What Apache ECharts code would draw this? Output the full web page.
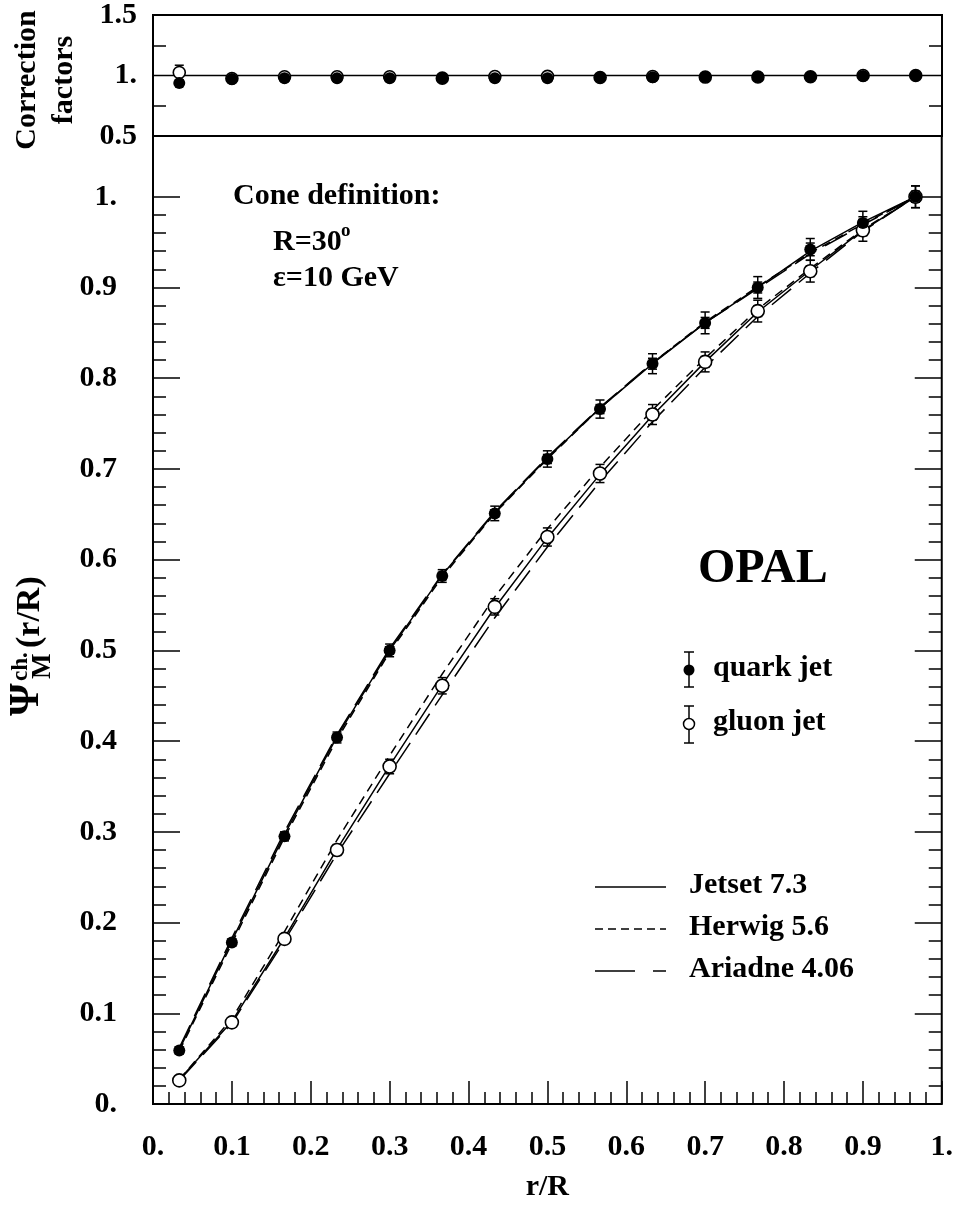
<!DOCTYPE html>
<html><head><meta charset="utf-8">
<script src="https://cdn.jsdelivr.net/npm/echarts@6/dist/echarts.min.js"></script>
<style>html,body{margin:0;padding:0;background:#fff}#c{width:956px;height:1207px}</style>
</head><body><div id="c"></div>
<script>
// ---------- data ----------
const rCenters = [0.0333, 0.1, 0.1667, 0.2333, 0.3, 0.3667, 0.4333, 0.5, 0.5667, 0.6333, 0.7, 0.7667, 0.8333, 0.9, 0.9667];

const quarkPsi      = [0.059, 0.178, 0.295, 0.404, 0.500, 0.582, 0.651, 0.711, 0.766, 0.816, 0.861, 0.900, 0.942, 0.971, 1.000];
const quarkErrTot   = [0.004, 0.004, 0.005, 0.006, 0.007, 0.007, 0.008, 0.009, 0.010, 0.011, 0.012, 0.012, 0.012, 0.013, 0.012];
const quarkErrStat  = [0.002, 0.002, 0.003, 0.003, 0.004, 0.004, 0.004, 0.005, 0.005, 0.006, 0.006, 0.006, 0.007, 0.007, 0.006];

const gluonPsi      = [0.026, 0.090, 0.182, 0.280, 0.372, 0.461, 0.548, 0.625, 0.695, 0.760, 0.818, 0.874, 0.918, 0.963, 1.000];
const gluonErrTot   = [0.003, 0.004, 0.005, 0.006, 0.008, 0.009, 0.009, 0.010, 0.010, 0.011, 0.011, 0.012, 0.012, 0.012, 0.012];
const gluonErrStat  = [0.002, 0.002, 0.003, 0.003, 0.004, 0.004, 0.005, 0.005, 0.005, 0.006, 0.006, 0.006, 0.006, 0.006, 0.006];

const quarkJetset   = [0.060, 0.180, 0.297, 0.405, 0.500, 0.583, 0.652, 0.712, 0.767, 0.816, 0.861, 0.900, 0.940, 0.972, 1.000];
const quarkHerwig   = [0.058, 0.177, 0.294, 0.402, 0.498, 0.581, 0.651, 0.711, 0.767, 0.817, 0.862, 0.901, 0.938, 0.970, 1.000];
const quarkAriadne  = [0.062, 0.183, 0.300, 0.407, 0.502, 0.584, 0.653, 0.713, 0.768, 0.817, 0.861, 0.899, 0.937, 0.969, 1.000];

const gluonJetset   = [0.027, 0.091, 0.183, 0.281, 0.373, 0.462, 0.547, 0.624, 0.694, 0.759, 0.818, 0.873, 0.919, 0.963, 1.000];
const gluonHerwig   = [0.027, 0.094, 0.190, 0.291, 0.384, 0.474, 0.559, 0.634, 0.702, 0.765, 0.822, 0.876, 0.921, 0.964, 1.000];
const gluonAriadne  = [0.026, 0.089, 0.180, 0.276, 0.364, 0.451, 0.536, 0.614, 0.686, 0.752, 0.812, 0.868, 0.916, 0.962, 1.000];

const quarkCorr     = [0.937, 0.972, 0.978, 0.978, 0.978, 0.978, 0.978, 0.977, 0.983, 0.985, 0.987, 0.988, 0.990, 0.995, 1.000];
const quarkCorrErr  = [0.015, 0.015, 0.015, 0.015, 0.015, 0.015, 0.015, 0.015, 0.015, 0.015, 0.015, 0.015, 0.015, 0.015, 0.015];
const gluonCorr     = [1.025, 0.975, 0.990, 0.990, 0.990, 0.978, 0.992, 0.993, 0.983, 0.992, 0.987, 0.988, 0.990, 1.000, 1.000];
const gluonCorrErr  = [0.060, 0.015, 0.015, 0.015, 0.015, 0.015, 0.015, 0.015, 0.015, 0.015, 0.015, 0.015, 0.015, 0.015, 0.015];

const corrRefX = [0, 1];
const corrRefY = [1, 1];

const xTickValues = [0, 0.1, 0.2, 0.3, 0.4, 0.5, 0.6, 0.7, 0.8, 0.9, 1.0];
const xTickLabels = ['0.', '0.1', '0.2', '0.3', '0.4', '0.5', '0.6', '0.7', '0.8', '0.9', '1.'];
const mainYTickValues = [0, 0.1, 0.2, 0.3, 0.4, 0.5, 0.6, 0.7, 0.8, 0.9, 1.0];
const mainYTickLabels = ['0.', '0.1', '0.2', '0.3', '0.4', '0.5', '0.6', '0.7', '0.8', '0.9', '1.'];
const mainYMinorTicks = [0.02,0.04,0.06,0.08,0.12,0.14,0.16,0.18,0.22,0.24,0.26,0.28,0.32,0.34,0.36,0.38,0.42,0.44,0.46,0.48,
                         0.52,0.54,0.56,0.58,0.62,0.64,0.66,0.68,0.72,0.74,0.76,0.78,0.82,0.84,0.86,0.88,0.92,0.94,0.96,0.98];
const corrTickValues = [0.5, 1.0, 1.5];
const corrTickLabels = ['0.5', '1.', '1.5'];
const corrMinorTicks = [0.75, 1.25];

// ---------- helpers ----------
const FF = '"Liberation Serif", "Times New Roman", serif';
const zip = (xs, ys) => xs.map((x, i) => [x, ys[i]]);
const labelFor = (vals, labs) => v => { const i = vals.findIndex(t => Math.abs(t - v) < 1e-6); return i < 0 ? '' : labs[i]; };
const BLK = '#000';

function errBarRender(params, api) {
  const x = api.value(0), y = api.value(1), et = api.value(2), es = api.value(3);
  const hi = api.coord([x, y + et]), lo = api.coord([x, y - et]);
  const shi = api.coord([x, y + es]), slo = api.coord([x, y - es]);
  const c = 4.5;
  const st = { stroke: BLK, lineWidth: 1.5 };
  const L = (x1, y1, x2, y2) => ({ type: 'line', shape: { x1, y1, x2, y2 }, style: st });
  const ch = [L(hi[0], hi[1], lo[0], lo[1]), L(hi[0] - c, hi[1], hi[0] + c, hi[1]), L(lo[0] - c, lo[1], lo[0] + c, lo[1])];
  if (es > 0) ch.push(L(shi[0] - c, shi[1], shi[0] + c, shi[1]), L(slo[0] - c, slo[1], slo[0] + c, slo[1]));
  return { type: 'group', children: ch };
}
function errData(xs, ys, et, es) { return xs.map((x, i) => [x, ys[i], et[i], es ? es[i] : 0]); }

const tickStyle = { color: BLK, width: 1.5 };
const labelStyle = { fontFamily: FF, fontWeight: 'bold', fontSize: 30, color: BLK };

function modelLine(name, data, type, xi, yi) {
  return { name, type: 'line', xAxisIndex: xi, yAxisIndex: yi, data, showSymbol: false, symbol: 'none', z: 2,
    lineStyle: { color: BLK, width: 1.5, type }, silent: true };
}

const chart = echarts.init(document.getElementById('c'), null, { renderer: 'canvas' });

const filledStyle = { color: BLK, opacity: 1 };
const openStyle = { color: '#fff', borderColor: BLK, borderWidth: 1.6, opacity: 1 };

const option = {
  animation: false,
  backgroundColor: '#fff',
  grid: [
    { left: 153, top: 14, width: 789, height: 122, show: true, borderColor: BLK, borderWidth: 2, backgroundColor: 'transparent', containLabel: false },
    { left: 153, top: 136, width: 789, height: 971, show: true, borderColor: BLK, borderWidth: 2, backgroundColor: 'transparent', containLabel: false }
  ],
  xAxis: [
    { gridIndex: 0, type: 'value', min: 0, max: 1, show: false },
    { gridIndex: 1, type: 'value', min: 0, max: 1, interval: 0.1,
      axisLine: { show: false },
      axisTick: { inside: true, length: 23, lineStyle: tickStyle },
      minorTick: { show: true, splitNumber: 5, length: 12, lineStyle: tickStyle },
      splitLine: { show: false }, minorSplitLine: { show: false },
      axisLabel: Object.assign({ margin: 28, formatter: labelFor(xTickValues, xTickLabels) }, labelStyle),
      name: 'r/R', nameLocation: 'middle', nameGap: 68,
      nameTextStyle: labelStyle }
  ],
  yAxis: [
    { gridIndex: 0, type: 'value', min: 0.5, max: 1.5, position: 'left',
      axisLine: { show: false }, splitLine: { show: false },
      axisTick: { inside: true, length: 13, lineStyle: tickStyle, customValues: corrMinorTicks },
      axisLabel: Object.assign({ margin: 16, customValues: corrTickValues, formatter: labelFor(corrTickValues, corrTickLabels) }, labelStyle) },
    { gridIndex: 0, type: 'value', min: 0.5, max: 1.5, position: 'right',
      axisLine: { show: false }, splitLine: { show: false },
      axisTick: { inside: true, length: 13, lineStyle: tickStyle, customValues: corrMinorTicks },
      axisLabel: { show: false } },
    { gridIndex: 1, type: 'value', min: 0, max: 1.067, position: 'left',
      axisLine: { show: false }, splitLine: { show: false },
      axisTick: { inside: true, length: 27, lineStyle: tickStyle, customValues: mainYTickValues },
      axisLabel: Object.assign({ margin: 36, customValues: mainYTickValues, formatter: labelFor(mainYTickValues, mainYTickLabels) }, labelStyle) },
    { gridIndex: 1, type: 'value', min: 0, max: 1.067, position: 'left',
      axisLine: { show: false }, splitLine: { show: false },
      axisTick: { inside: true, length: 13, lineStyle: tickStyle, customValues: mainYMinorTicks },
      axisLabel: { show: false } },
    { gridIndex: 1, type: 'value', min: 0, max: 1.067, position: 'right',
      axisLine: { show: false }, splitLine: { show: false },
      axisTick: { inside: true, length: 27, lineStyle: tickStyle, customValues: mainYTickValues },
      axisLabel: { show: false } },
    { gridIndex: 1, type: 'value', min: 0, max: 1.067, position: 'right',
      axisLine: { show: false }, splitLine: { show: false },
      axisTick: { inside: true, length: 13, lineStyle: tickStyle, customValues: mainYMinorTicks },
      axisLabel: { show: false } }
  ],
  series: [
    // top panel
    modelLine('ref', zip(corrRefX, corrRefY), 'solid', 0, 0),
    { type: 'custom', xAxisIndex: 0, yAxisIndex: 0, renderItem: errBarRender, data: errData(rCenters, gluonCorr, gluonCorrErr), z: 3, silent: true },
    { type: 'scatter', xAxisIndex: 0, yAxisIndex: 0, data: zip(rCenters, gluonCorr), symbol: 'circle', symbolSize: 12, z: 4,
      itemStyle: openStyle, silent: true },
    { type: 'custom', xAxisIndex: 0, yAxisIndex: 0, renderItem: errBarRender, data: errData(rCenters, quarkCorr, quarkCorrErr), z: 5, silent: true },
    { type: 'scatter', xAxisIndex: 0, yAxisIndex: 0, data: zip(rCenters, quarkCorr), symbol: 'circle', symbolSize: 12, z: 6,
      itemStyle: filledStyle, silent: true },
    // main panel model curves
    modelLine('Jetset 7.3 q', zip(rCenters, quarkJetset), 'solid', 1, 2),
    modelLine('Herwig 5.6 q', zip(rCenters, quarkHerwig), [9, 6], 1, 2),
    modelLine('Ariadne 4.06 q', zip(rCenters, quarkAriadne), [25, 10], 1, 2),
    modelLine('Jetset 7.3 g', zip(rCenters, gluonJetset), 'solid', 1, 2),
    modelLine('Herwig 5.6 g', zip(rCenters, gluonHerwig), [9, 6], 1, 2),
    modelLine('Ariadne 4.06 g', zip(rCenters, gluonAriadne), [25, 10], 1, 2),
    // data
    { type: 'custom', xAxisIndex: 1, yAxisIndex: 2, renderItem: errBarRender, data: errData(rCenters, gluonPsi, gluonErrTot, gluonErrStat), z: 3, silent: true },
    { type: 'custom', xAxisIndex: 1, yAxisIndex: 2, renderItem: errBarRender, data: errData(rCenters, quarkPsi, quarkErrTot, quarkErrStat), z: 3, silent: true },
    { name: 'gluon jet', type: 'scatter', xAxisIndex: 1, yAxisIndex: 2, data: zip(rCenters, gluonPsi), symbol: 'circle', symbolSize: 13, z: 4,
      itemStyle: openStyle, silent: true },
    { name: 'quark jet', type: 'scatter', xAxisIndex: 1, yAxisIndex: 2, data: zip(rCenters, quarkPsi), symbol: 'circle', symbolSize: 12, z: 4,
      itemStyle: filledStyle, silent: true }
  ],
  graphic: [
    // "Correction factors"
    { type: 'text', x: 27, y: 80, rotation: Math.PI / 2, style: { text: 'Correction', fontFamily: FF, fontWeight: 'bold', fontSize: 30, fill: BLK, align: 'center', verticalAlign: 'middle' } },
    { type: 'text', x: 64, y: 80, rotation: Math.PI / 2, style: { text: 'factors', fontFamily: FF, fontWeight: 'bold', fontSize: 30, fill: BLK, align: 'center', verticalAlign: 'middle' } },
    // y title  Psi^{ch.}_M (r/R)
    { type: 'group', x: 41, y: 716, rotation: Math.PI / 2, children: [
      { type: 'text', x: 0, y: -14, style: { text: 'Ψ', fontFamily: FF, fontWeight: 'bold', fontSize: 42, fill: BLK, align: 'left', verticalAlign: 'middle' } },
      { type: 'text', x: 35, y: -20, style: { text: 'ch.', fontFamily: FF, fontWeight: 'bold', fontSize: 23, fill: BLK, align: 'left', verticalAlign: 'middle' } },
      { type: 'text', x: 37, y: 2, style: { text: 'M', fontFamily: FF, fontWeight: 'bold', fontSize: 27, fill: BLK, align: 'left', verticalAlign: 'middle' } },
      { type: 'text', x: 68, y: -11, style: { text: '(r/R)', fontFamily: FF, fontWeight: 'bold', fontSize: 34, fill: BLK, align: 'left', verticalAlign: 'middle' } }
    ] },
    // cone definition
    { type: 'text', x: 233, y: 196, style: { text: 'Cone definition:', fontFamily: FF, fontWeight: 'bold', fontSize: 30, fill: BLK, align: 'left', verticalAlign: 'middle' } },
    { type: 'text', x: 273, y: 242, style: { text: 'R=30', fontFamily: FF, fontWeight: 'bold', fontSize: 30, fill: BLK, align: 'left', verticalAlign: 'middle' } },
    { type: 'text', x: 341, y: 231, style: { text: 'o', fontFamily: FF, fontWeight: 'bold', fontSize: 19, fill: BLK, align: 'left', verticalAlign: 'middle' } },
    { type: 'text', x: 273, y: 278, style: { text: 'ε=10 GeV', fontFamily: FF, fontWeight: 'bold', fontSize: 30, fill: BLK, align: 'left', verticalAlign: 'middle' } },
    // OPAL
    { type: 'text', x: 698, y: 570, style: { text: 'OPAL', fontFamily: FF, fontWeight: 'bold', fontSize: 48, fill: BLK, align: 'left', verticalAlign: 'middle' } },
    // legend: data
    { type: 'line', shape: { x1: 689, y1: 652, x2: 689, y2: 687 }, style: { stroke: BLK, lineWidth: 1.5 } },
    { type: 'line', shape: { x1: 684, y1: 652, x2: 694, y2: 652 }, style: { stroke: BLK, lineWidth: 1.5 } },
    { type: 'line', shape: { x1: 684, y1: 687, x2: 694, y2: 687 }, style: { stroke: BLK, lineWidth: 1.5 } },
    { type: 'circle', shape: { cx: 689, cy: 670, r: 5.5 }, style: { fill: BLK } },
    { type: 'text', x: 713, y: 668, style: { text: 'quark jet', fontFamily: FF, fontWeight: 'bold', fontSize: 30, fill: BLK, align: 'left', verticalAlign: 'middle' } },
    { type: 'line', shape: { x1: 689, y1: 706, x2: 689, y2: 743 }, style: { stroke: BLK, lineWidth: 1.5 } },
    { type: 'line', shape: { x1: 684, y1: 706, x2: 694, y2: 706 }, style: { stroke: BLK, lineWidth: 1.5 } },
    { type: 'line', shape: { x1: 684, y1: 743, x2: 694, y2: 743 }, style: { stroke: BLK, lineWidth: 1.5 } },
    { type: 'circle', shape: { cx: 689, cy: 724, r: 5.5 }, style: { fill: '#fff', stroke: BLK, lineWidth: 1.5 } },
    { type: 'text', x: 713, y: 722, style: { text: 'gluon jet', fontFamily: FF, fontWeight: 'bold', fontSize: 30, fill: BLK, align: 'left', verticalAlign: 'middle' } },
    // legend: models
    { type: 'line', shape: { x1: 595, y1: 887, x2: 666, y2: 887 }, style: { stroke: BLK, lineWidth: 1.5 } },
    { type: 'text', x: 689, y: 885, style: { text: 'Jetset 7.3', fontFamily: FF, fontWeight: 'bold', fontSize: 30, fill: BLK, align: 'left', verticalAlign: 'middle' } },
    { type: 'line', shape: { x1: 595, y1: 929, x2: 666, y2: 929 }, style: { stroke: BLK, lineWidth: 1.5, lineDash: [8, 5] } },
    { type: 'text', x: 689, y: 927, style: { text: 'Herwig 5.6', fontFamily: FF, fontWeight: 'bold', fontSize: 30, fill: BLK, align: 'left', verticalAlign: 'middle' } },
    { type: 'line', shape: { x1: 595, y1: 971, x2: 666, y2: 971 }, style: { stroke: BLK, lineWidth: 1.5, lineDash: [40, 18] } },
    { type: 'text', x: 689, y: 969, style: { text: 'Ariadne 4.06', fontFamily: FF, fontWeight: 'bold', fontSize: 30, fill: BLK, align: 'left', verticalAlign: 'middle' } }
  ]
};
chart.setOption(option);
</script>
</body></html>
